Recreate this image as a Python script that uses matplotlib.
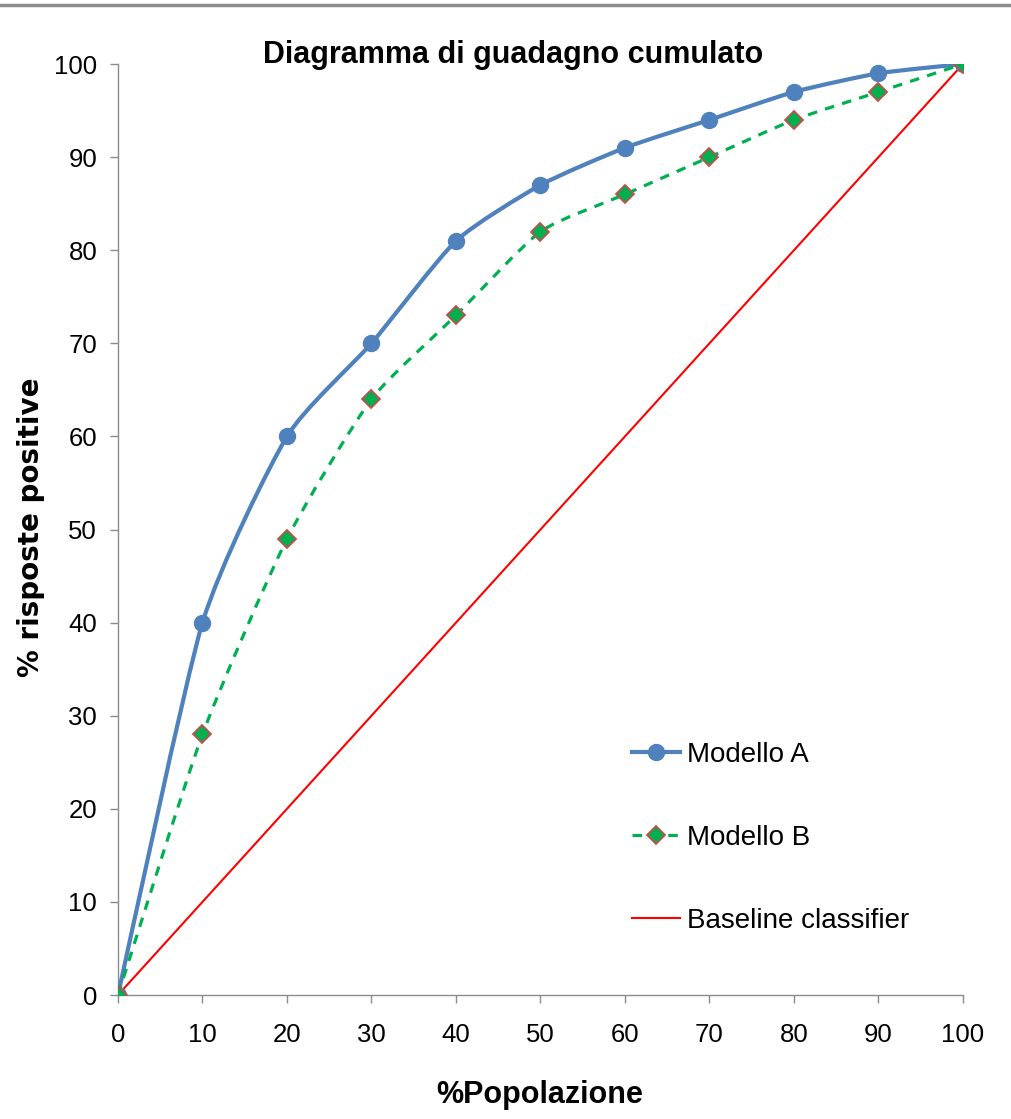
import numpy as np
import matplotlib
matplotlib.use('Agg')
import matplotlib.pyplot as plt
from matplotlib.path import Path
from matplotlib.patches import PathPatch
from matplotlib.lines import Line2D

plt.rcParams['font.family'] = ['Liberation Sans', 'DejaVu Sans']

popolazione = [0, 10, 20, 30, 40, 50, 60, 70, 80, 90, 100]
modello_a = [0, 40, 60, 70, 81, 87, 91, 94, 97, 99, 100]
modello_b = [0, 28, 49, 64, 73, 82, 86, 90, 94, 97, 100]
baseline = [0, 10, 20, 30, 40, 50, 60, 70, 80, 90, 100]

BLU = '#4F81BD'
VERDE = '#00B050'
ROSSO = '#FF0000'
BORDO = '#C0504D'
GRIGIO = '#8c8c8c'


def smooth_path(x, y, k=10.0):
    """Curva di Bezier (linea smussata) passante per i punti"""
    p = np.column_stack([x, y]).astype(float)
    n = len(p)
    verts = [p[0]]
    codes = [Path.MOVETO]
    for i in range(n - 1):
        p0 = p[max(i - 1, 0)]
        p1 = p[i]
        p2 = p[i + 1]
        p3 = p[min(i + 2, n - 1)]
        c1 = p1 + (p2 - p0) / k
        c2 = p2 - (p3 - p1) / k
        verts += [c1, c2, p2]
        codes += [Path.CURVE4] * 3
    return Path(verts, codes)


fig = plt.figure(figsize=(10.11, 11.19), dpi=100)
ax = fig.add_axes([0.1167, 0.1108, 0.8358, 0.832])

# linea grigia in alto
fig.add_artist(Line2D([0, 1], [0.9955, 0.9955], transform=fig.transFigure,
                      color=GRIGIO, lw=2.5))

# baseline
ax.plot(popolazione, baseline, color=ROSSO, lw=1.5, zorder=2)

# modello A
ax.add_patch(PathPatch(smooth_path(popolazione, modello_a), fill=False,
                       edgecolor=BLU, lw=3, capstyle='round', zorder=3))
ax.plot(popolazione, modello_a, ls='none', marker='o', ms=11.5,
        color=BLU, zorder=4)

# modello B
ax.add_patch(PathPatch(smooth_path(popolazione, modello_b), fill=False,
                       edgecolor=VERDE, lw=2.3, linestyle=(0, (3, 2.6)), zorder=5))
ax.plot(popolazione, modello_b, ls='none', marker='D', ms=9.5,
        markerfacecolor=VERDE, markeredgecolor=BORDO, markeredgewidth=1.3, zorder=6)

ax.set_xlim(0, 100)
ax.set_ylim(0, 100)
ax.set_xticks(range(0, 101, 10))
ax.set_yticks(range(0, 101, 10))
ax.tick_params(axis='both', labelsize=18.5, color=GRIGIO, length=6, width=1)
ax.tick_params(axis='x', pad=14)
ax.tick_params(axis='y', pad=9)
for s in ['top', 'right']:
    ax.spines[s].set_visible(False)
for s in ['left', 'bottom']:
    ax.spines[s].set_color(GRIGIO)
    ax.spines[s].set_linewidth(1)

fig.text(513 / 1011, 1 - 55 / 1119, 'Diagramma di guadagno cumulato',
         fontsize=22, fontweight='bold', ha='center', va='center')
fig.text(540 / 1011, 1 - 1095 / 1119, '%Popolazione',
         fontsize=22, fontweight='bold', ha='center', va='center')
fig.text(31 / 1011, 1 - 527 / 1119, '% risposte positive', rotation=90,
         fontsize=20, fontweight='bold', family='DejaVu Sans',
         ha='center', va='center')

handles = [
    Line2D([], [], color=BLU, lw=3, marker='o', ms=11.5),
    Line2D([], [], color=VERDE, lw=2.3, linestyle=(0, (3, 2.6)), marker='D', ms=9.5,
           markerfacecolor=VERDE, markeredgecolor=BORDO, markeredgewidth=1.3),
    Line2D([], [], color=ROSSO, lw=1.5),
]
ax.legend(handles, ['Modello A', 'Modello B', 'Baseline classifier'],
          loc='lower left', bbox_to_anchor=(0.595, 0.054), frameon=False,
          fontsize=20, handlelength=1.75, handletextpad=0.25, labelspacing=2.05,
          borderaxespad=0)

fig.savefig('out.png', dpi=100)
